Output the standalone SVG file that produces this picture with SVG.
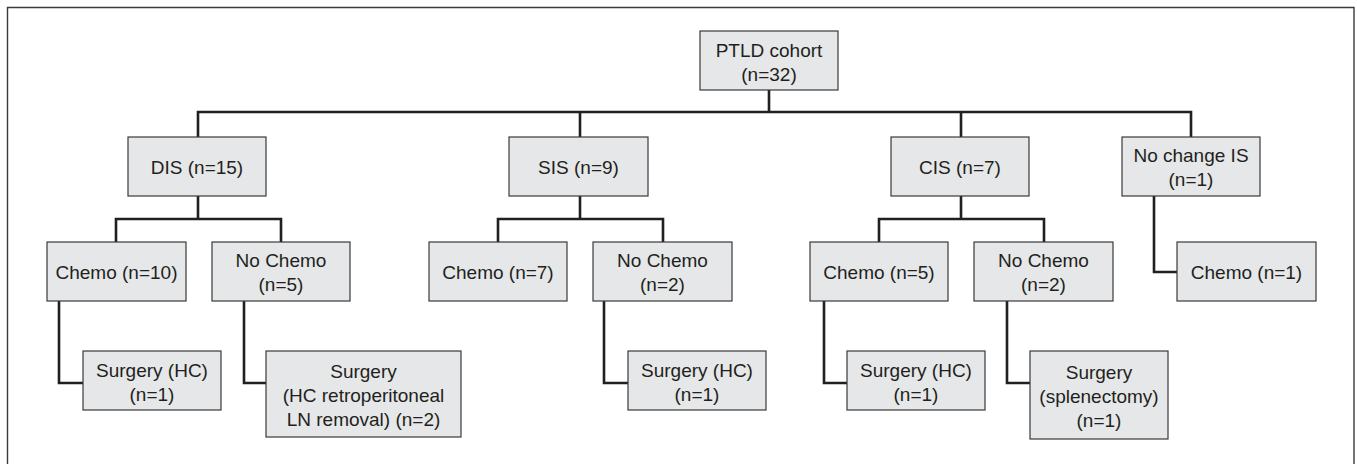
<svg xmlns="http://www.w3.org/2000/svg" width="1357" height="464" viewBox="0 0 1357 464">
<style>
.box{fill:#e6e7e8;stroke:#3a3a3a;stroke-width:1.2}
.t{font-family:"Liberation Sans",Arial,sans-serif;font-size:19px;fill:#231f20;text-anchor:middle}
.c{fill:none;stroke:#231f20;stroke-width:2.6;stroke-linejoin:miter}
</style>
<rect x="0" y="0" width="1357" height="464" fill="#ffffff"/>
<path d="M7.5,470 V7.5 H1354 V470" fill="none" stroke="#3a3a3a" stroke-width="1.4"/>
<g id="connectors">
<path class="c" d="M769,90 V112"/>
<path class="c" d="M198,137 V112 H1191 V137"/>
<path class="c" d="M580,112 V137"/>
<path class="c" d="M961,112 V137"/>
<path class="c" d="M198,196 V219"/>
<path class="c" d="M116,242 V219 H281 V242"/>
<path class="c" d="M580,196 V219"/>
<path class="c" d="M498,242 V219 H663 V242"/>
<path class="c" d="M961,196 V219"/>
<path class="c" d="M879,242 V219 H1044 V242"/>
<path class="c" d="M1154,196 V272 H1177"/>
<path class="c" d="M59,301 V383 H83"/>
<path class="c" d="M244,301 V383 H266"/>
<path class="c" d="M604,301 V383 H628"/>
<path class="c" d="M824,301 V383 H847"/>
<path class="c" d="M1007,301 V383 H1030"/>
</g>
<g id="ptld"><rect class="box" x="700" y="31" width="138" height="59"/><text class="t" x="769" y="57">PTLD cohort</text><text class="t" x="769" y="81">(n=32)</text></g>
<g id="dis"><rect class="box" x="128" y="137" width="138" height="59"/><text class="t" x="197" y="174">DIS (n=15)</text></g>
<g id="sis"><rect class="box" x="509" y="137" width="139" height="59"/><text class="t" x="578.5" y="174">SIS (n=9)</text></g>
<g id="cis"><rect class="box" x="891" y="137" width="138" height="59"/><text class="t" x="960" y="174">CIS (n=7)</text></g>
<g id="nochange"><rect class="box" x="1122" y="137" width="138" height="59"/><text class="t" x="1191" y="162">No change IS</text><text class="t" x="1191" y="186">(n=1)</text></g>
<g id="dis-chemo"><rect class="box" x="47" y="242" width="139" height="59"/><text class="t" x="116.5" y="279">Chemo (n=10)</text></g>
<g id="dis-nochemo"><rect class="box" x="212" y="242" width="138" height="59"/><text class="t" x="281" y="267">No Chemo</text><text class="t" x="281" y="291">(n=5)</text></g>
<g id="sis-chemo"><rect class="box" x="429" y="242" width="138" height="59"/><text class="t" x="498" y="279">Chemo (n=7)</text></g>
<g id="sis-nochemo"><rect class="box" x="593" y="242" width="139" height="59"/><text class="t" x="662.5" y="267">No Chemo</text><text class="t" x="662.5" y="291">(n=2)</text></g>
<g id="cis-chemo"><rect class="box" x="810" y="242" width="138" height="59"/><text class="t" x="879" y="279">Chemo (n=5)</text></g>
<g id="cis-nochemo"><rect class="box" x="974" y="242" width="139" height="59"/><text class="t" x="1043.5" y="267">No Chemo</text><text class="t" x="1043.5" y="291">(n=2)</text></g>
<g id="nc-chemo"><rect class="box" x="1177" y="242" width="139" height="59"/><text class="t" x="1246.5" y="279">Chemo (n=1)</text></g>
<g id="dis-surg"><rect class="box" x="83" y="351" width="138" height="59"/><text class="t" x="152" y="377">Surgery (HC)</text><text class="t" x="152" y="401">(n=1)</text></g>
<g id="dis-surg2"><rect class="box" x="266" y="351" width="195" height="86"/><text class="t" x="363.5" y="378">Surgery</text><text class="t" x="363.5" y="402">(HC retroperitoneal</text><text class="t" x="363.5" y="426">LN removal) (n=2)</text></g>
<g id="sis-surg"><rect class="box" x="628" y="351" width="138" height="59"/><text class="t" x="697" y="377">Surgery (HC)</text><text class="t" x="697" y="401">(n=1)</text></g>
<g id="cis-surg"><rect class="box" x="847" y="351" width="138" height="59"/><text class="t" x="916" y="377">Surgery (HC)</text><text class="t" x="916" y="401">(n=1)</text></g>
<g id="cis-surg2"><rect class="box" x="1030" y="351" width="138" height="88"/><text class="t" x="1099" y="379">Surgery</text><text class="t" x="1099" y="403">(splenectomy)</text><text class="t" x="1099" y="427">(n=1)</text></g>
</svg>
